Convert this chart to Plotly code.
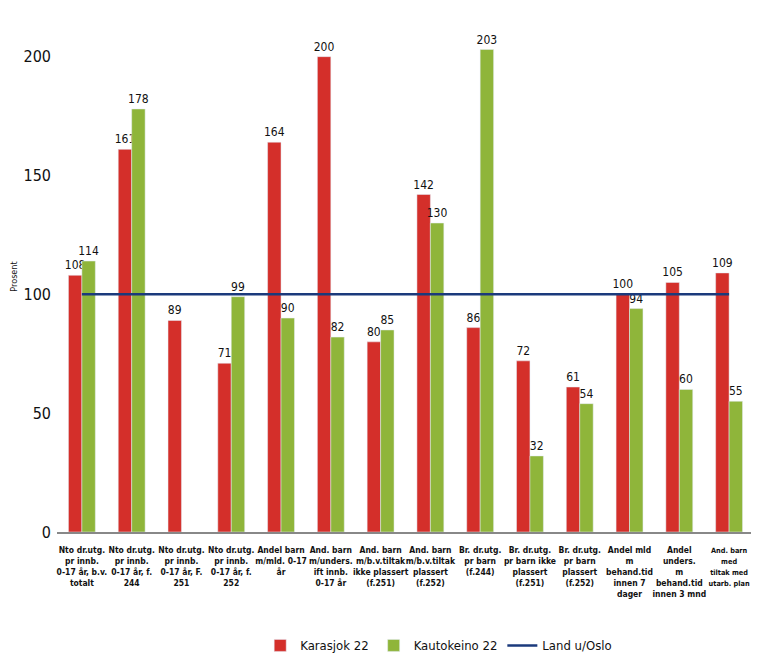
import plotly.graph_objects as go

categories = [
    "Nto dr.utg.<br>pr innb.<br>0-17 år, b.v.<br>totalt",
    "Nto dr.utg.<br>pr innb.<br>0-17 år, f.<br>244",
    "Nto dr.utg.<br>pr innb.<br>0-17 år, F.<br>251",
    "Nto dr.utg.<br>pr innb.<br>0-17 år, f.<br>252",
    "Andel barn<br>m/mld. 0-17<br>år",
    "And. barn<br>m/unders.<br>ift innb.<br>0-17 år",
    "And. barn<br>m/b.v.tiltak<br>ikke plassert<br>(f.251)",
    "And. barn<br>m/b.v.tiltak<br>plassert<br>(f.252)",
    "Br. dr.utg.<br>pr barn<br>(f.244)",
    "Br. dr.utg.<br>pr barn ikke<br>plassert<br>(f.251)",
    "Br. dr.utg.<br>pr barn<br>plassert<br>(f.252)",
    "Andel mld<br>m<br>behand.tid<br>innen 7<br>dager",
    "Andel<br>unders.<br>m<br>behand.tid<br>innen 3 mnd",
    "And. barn<br>med<br>tiltak med<br>utarb. plan",
]
karasjok = [108, 161, 89, 71, 164, 200, 80, 142, 86, 72, 61, 100, 105, 109]
kautokeino = [114, 178, None, 99, 90, 82, 85, 130, 203, 32, 54, 94, 60, 55]
land = [100] * len(categories)
y_ticks = [0, 50, 100, 150, 200]

FONT = "DejaVu Sans Condensed, Liberation Sans Narrow, sans-serif"

# tick label texts (last one slightly smaller so it fits at the right edge)
tick_text = categories[:-1] + [
    "<span style='font-size:7.3px'>" + categories[-1] + "</span>"
]

fig = go.Figure()
fig.add_trace(go.Bar(
    x=categories, y=karasjok, name="Karasjok 22",
    marker=dict(color="#d42f2a"),
    text=karasjok, textposition="outside", cliponaxis=False, constraintext="none",
    textfont=dict(size=12, color="#111", family=FONT),
))
fig.add_trace(go.Bar(
    x=categories, y=kautokeino, name="Kautokeino 22",
    marker=dict(color="#8fb53a"),
    text=[("" if v is None else v) for v in kautokeino],
    textposition="outside", cliponaxis=False, constraintext="none",
    textfont=dict(size=12, color="#111", family=FONT),
))
fig.add_trace(go.Scatter(
    x=categories, y=land, name="Land u/Oslo", mode="lines",
    line=dict(color="#1b3a7c", width=2.5),
))

fig.update_layout(
    width=743, height=653,
    margin=dict(l=49, r=0, t=13, b=121),
    paper_bgcolor="white", plot_bgcolor="white",
    barmode="group", bargap=0.46, bargroupgap=0,
    font=dict(family=FONT, color="#111"),
    showlegend=True,
    legend=dict(orientation="h", x=0.55, xanchor="center", y=-0.222, yanchor="middle",
                font=dict(size=13, family=FONT), traceorder="normal"),
    xaxis=dict(
        type="category", range=[-0.5, 13.44], automargin=False,
        tickmode="array", tickvals=categories, ticktext=tick_text,
        showgrid=False, showline=True, linecolor="#888", linewidth=1.5,
        tickfont=dict(size=8.5, family=FONT, weight="bold"),
        ticks="", tickangle=0, ticklabelstandoff=9,
    ),
    yaxis=dict(
        range=[0, 215], tickvals=y_ticks, showgrid=False, zeroline=False,
        showline=False, ticks="", automargin=False, ticklabelstandoff=5,
        tickfont=dict(size=16, family=FONT),
        title=dict(text="Prosent", font=dict(size=9, family=FONT), standoff=4),
    ),
)

fig.write_html("out.html")
